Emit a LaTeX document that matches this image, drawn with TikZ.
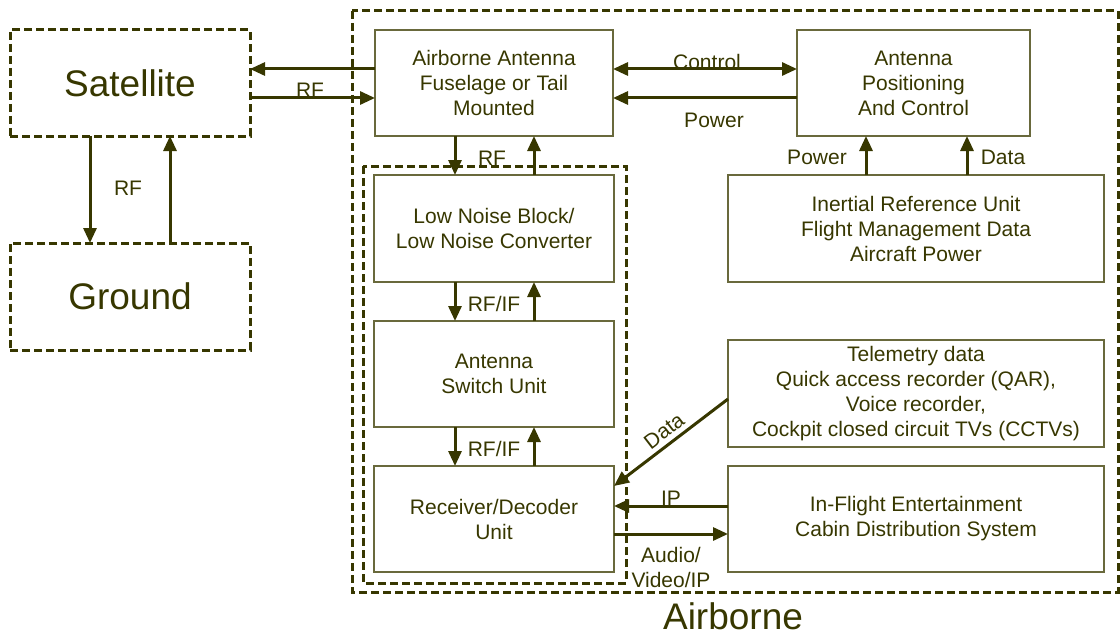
\documentclass[tikz,border=0pt]{standalone}
\usepackage{fontspec}
\setmainfont{Liberation Sans}
\usetikzlibrary{arrows.meta}
\definecolor{ink}{RGB}{55,55,0}
\definecolor{frame}{RGB}{105,105,60}
\tikzset{
  box/.style={draw=frame, line width=1.8pt, rectangle, inner sep=0pt, outer sep=0pt, align=center, text=ink, font=\fontsize{21}{25}\selectfont},
  dbox/.style={draw=ink, line width=3pt, dash pattern=on 8pt off 4pt, rectangle, inner sep=0pt, outer sep=0pt, align=center, text=ink, font=\fontsize{37}{40}\selectfont},
  dashframe/.style={draw=ink, line width=3pt, dash pattern=on 8pt off 4pt},
  arr/.style={draw=ink, line width=3pt, -{Triangle[length=15pt,width=13pt]}},
  darr/.style={draw=ink, line width=3pt, {Triangle[length=15pt,width=13pt]}-{Triangle[length=15pt,width=13pt]}},
  lbl/.style={text=ink, font=\fontsize{21}{25}\selectfont, inner sep=0pt, align=center},
}
\begin{document}
\begin{tikzpicture}[x=1pt,y=-1pt]
\useasboundingbox (0,0) rectangle (1120,634);
% dashed frames
\draw[dashframe] (352,11) rectangle (1118,592);
\draw[dashframe] (363,166) rectangle (626,583);
% nodes
\node[dbox, minimum width=240pt, minimum height=106pt] (sat) at (130,83) {Satellite};
\node[dbox, minimum width=240pt, minimum height=107pt] (gnd) at (130,296.5) {Ground};
\node[box, minimum width=238pt, minimum height=106pt] (ant) at (494,83) {Airborne Antenna\\Fuselage or Tail\\Mounted};
\node[box, minimum width=233pt, minimum height=106pt] (apc) at (913.5,83) {Antenna\\Positioning\\And Control};
\node[box, minimum width=240pt, minimum height=107pt] (lnb) at (494,228.5) {Low Noise Block/\\Low Noise Converter};
\node[box, minimum width=240pt, minimum height=106pt] (asu) at (494,374) {Antenna\\Switch Unit};
\node[box, minimum width=240pt, minimum height=106pt] (rdu) at (494,519) {Receiver/Decoder\\Unit};
\node[box, minimum width=376pt, minimum height=107pt] (iru) at (916,228.5) {Inertial Reference Unit\\Flight Management Data\\Aircraft Power};
\node[box, minimum width=376pt, minimum height=107pt] (tel) at (916,393.5) {Telemetry data\\Quick access recorder (QAR),\\Voice recorder,\\Cockpit closed circuit TVs (CCTVs)};
\node[box, minimum width=376pt, minimum height=106pt] (ife) at (916,519) {In-Flight Entertainment\\Cabin Distribution System};
% connectors
\draw[arr] ([yshift=14pt]ant.west) -- ([yshift=14pt]sat.east);
\draw[arr] ([yshift=-15pt]sat.east) -- ([yshift=-15pt]ant.west);
\draw[arr] ([xshift=-40pt]sat.south) -- ([xshift=-40pt]gnd.north);
\draw[arr] ([xshift=40pt]gnd.north) -- ([xshift=40pt]sat.south);
\draw[darr] ([yshift=14pt]ant.east) -- ([yshift=14pt]apc.west);
\draw[arr] ([yshift=-15pt]apc.west) -- ([yshift=-15pt]ant.east);
\draw[arr] ([xshift=-39pt]ant.south) -- ([xshift=-39pt]lnb.north);
\draw[arr] ([xshift=40pt]lnb.north) -- ([xshift=40pt]ant.south);
\draw[arr] ([xshift=-39pt]lnb.south) -- ([xshift=-39pt]asu.north);
\draw[arr] ([xshift=40pt]asu.north) -- ([xshift=40pt]lnb.south);
\draw[arr] ([xshift=-39pt]asu.south) -- ([xshift=-39pt]rdu.north);
\draw[arr] ([xshift=40pt]rdu.north) -- ([xshift=40pt]asu.south);
\draw[arr] ([xshift=-50pt]iru.north) -- ([xshift=-47.5pt]apc.south);
\draw[arr] ([xshift=51pt]iru.north) -- ([xshift=53.5pt]apc.south);
\draw[arr] ([yshift=-5.5pt]tel.west) -- ([yshift=33pt]rdu.east);
\draw[arr] ([yshift=13pt]ife.west) -- ([yshift=13pt]rdu.east);
\draw[arr] ([yshift=-15pt]rdu.east) -- ([yshift=-15pt]ife.west);
% labels
\node[lbl] (l1) at (310,90) {RF};
\node[lbl] (l2) at (128,188) {RF};
\node[lbl] (l3) at (707,62) {Control};
\node[lbl] (l4) at (714,120) {Power};
\node[lbl] (l5) at (492,158) {RF};
\node[lbl] (l6) at (494,304) {RF/IF};
\node[lbl] (l7) at (494,449) {RF/IF};
\node[lbl] (l8) at (817,157) {Power};
\node[lbl] (l9) at (1003,157) {Data};
\node[lbl, rotate=37.6] (l10) at (664,431) {Data};
\node[lbl] (l11) at (671,498) {IP};
\node[lbl] (l12) at (671,567) {Audio/\\Video/IP};
\node[lbl, font=\fontsize{37}{40}\selectfont] (l13) at (733,616) {Airborne};
\end{tikzpicture}
\end{document}
